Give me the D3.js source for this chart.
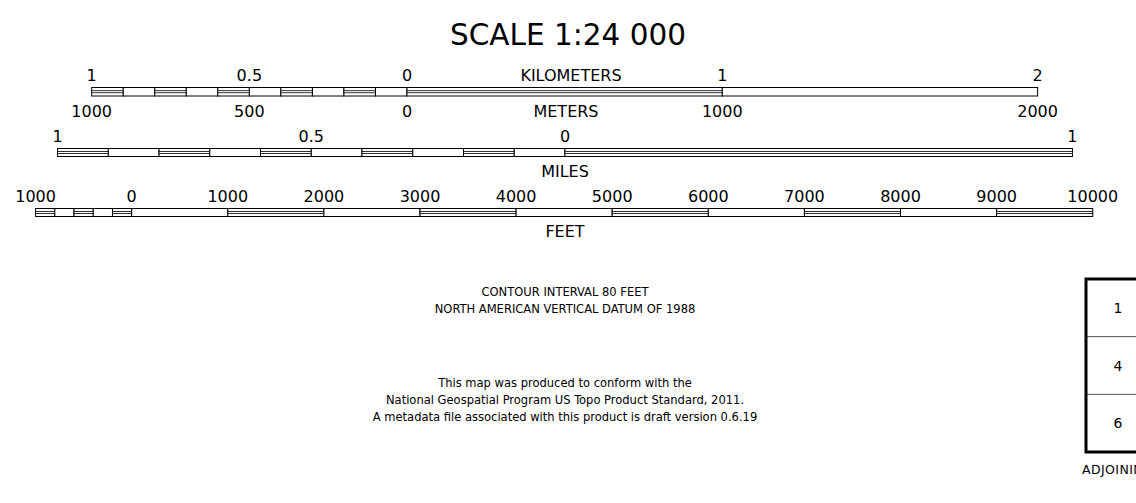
<!DOCTYPE html>
<html><head><meta charset="utf-8">
<script src="https://cdn.jsdelivr.net/npm/d3@7"></script>
<style>
html,body{margin:0;padding:0;background:#fff;}
svg{display:block;}
text{font-family:"DejaVu Sans",sans-serif;fill:#000;}
.notes text{font-family:"DejaVu Sans Condensed","DejaVu Sans",sans-serif;}
</style></head>
<body>
<svg id="chart" width="1136" height="503"></svg>
<script>
// ---- data ----
const title = "SCALE 1:24 000";
const kmTicks = [-1, -0.5, 0, 1, 2];
const kmLabels = ["1", "0.5", "0", "1", "2"];
const meterLabels = ["1000", "500", "0", "1000", "2000"];
const mileTicks = [-1, -0.5, 0, 1];
const mileLabels = ["1", "0.5", "0", "1"];
const feetTicks = [-1000, 0, 1000, 2000, 3000, 4000, 5000, 6000, 7000, 8000, 9000, 10000];
const feetLabels = ["1000", "0", "1000", "2000", "3000", "4000", "5000", "6000", "7000", "8000", "9000", "10000"];
// segments: [start, end, doubleLine]
const kmSegments = [
  [-1.0,-0.9,1],[-0.9,-0.8,0],[-0.8,-0.7,1],[-0.7,-0.6,0],[-0.6,-0.5,1],
  [-0.5,-0.4,0],[-0.4,-0.3,1],[-0.3,-0.2,0],[-0.2,-0.1,1],[-0.1,0,0],
  [0,1,1],[1,2,0]];
const mileSegments = [
  [-1.0,-0.9,1],[-0.9,-0.8,0],[-0.8,-0.7,1],[-0.7,-0.6,0],[-0.6,-0.5,1],
  [-0.5,-0.4,0],[-0.4,-0.3,1],[-0.3,-0.2,0],[-0.2,-0.1,1],[-0.1,0,0],
  [0,1,1]];
const feetSegments = [
  [-1000,-800,1],[-800,-600,0],[-600,-400,1],[-400,-200,0],[-200,0,1],
  [0,1000,0],[1000,2000,1],[2000,3000,0],[3000,4000,1],[4000,5000,0],
  [5000,6000,1],[6000,7000,0],[7000,8000,1],[8000,9000,0],[9000,10000,1]];
const unitNames = {km: "KILOMETERS", m: "METERS", mi: "MILES", ft: "FEET"};
const notes1 = ["CONTOUR INTERVAL 80 FEET", "NORTH AMERICAN VERTICAL DATUM OF 1988"];
const notes2 = ["This map was produced to conform with the",
  "National Geospatial Program US Topo Product Standard, 2011.",
  "A metadata file associated with this product is draft version 0.6.19"];
const adjoining = ["1", "4", "6"];
const adjoiningLabel = "ADJOINING 7.5' QUADRANGLES";

// ---- drawing ----
const svg = d3.select("#chart");
const pxPerKm = 315.3;
const km = d3.scaleLinear().domain([-1, 2]).range([407 - pxPerKm, 407 + 2 * pxPerKm]);
const mi = d3.scaleLinear().domain([-1, 1]).range([565 - 1.609344 * pxPerKm, 565 + 1.609344 * pxPerKm]);
const ft = d3.scaleLinear().domain([0, 10000]).range([131.7, 131.7 + 10 * 0.3048 * pxPerKm]);

svg.append("text").attr("x", 568).attr("y", 45).attr("text-anchor", "middle")
  .style("font-size", "29.5px").text(title);

function drawBar(scale, segs, y, h) {
  const g = svg.append("g");
  segs.forEach(s => {
    const x0 = scale(s[0]), x1 = scale(s[1]);
    g.append("rect").attr("x", x0).attr("y", y).attr("width", x1 - x0).attr("height", h)
      .attr("fill", "#fff").attr("stroke", "#000").attr("stroke-width", 1);
    if (s[2]) {
      g.append("rect").attr("x", x0).attr("y", y + h * 0.38).attr("width", x1 - x0).attr("height", h * 0.24)
        .attr("fill", "#fff").attr("stroke", "#000").attr("stroke-width", 0.8);
    }
  });
}
function drawLabels(scale, ticks, labels, y, size) {
  svg.append("g").selectAll("text").data(ticks).join("text")
    .attr("x", d => scale(d)).attr("y", y).attr("text-anchor", "middle")
    .style("font-size", size + "px").text((d, i) => labels[i]);
}

const ls = 16;
drawBar(km, kmSegments, 87.5, 8.5);
drawLabels(km, kmTicks, kmLabels, 81, ls);
drawLabels(km, kmTicks, meterLabels, 117, ls);
svg.append("text").attr("x", 571).attr("y", 81).attr("text-anchor", "middle").style("font-size", ls + "px").text(unitNames.km);
svg.append("text").attr("x", 566).attr("y", 117).attr("text-anchor", "middle").style("font-size", ls + "px").text(unitNames.m);

drawBar(mi, mileSegments, 148.5, 8);
drawLabels(mi, mileTicks, mileLabels, 142, ls);
svg.append("text").attr("x", 565).attr("y", 177).attr("text-anchor", "middle").style("font-size", ls + "px").text(unitNames.mi);

drawBar(ft, feetSegments, 208.5, 8);
drawLabels(ft, feetTicks, feetLabels, 202, ls);
svg.append("text").attr("x", 565).attr("y", 237).attr("text-anchor", "middle").style("font-size", ls + "px").text(unitNames.ft);

const notes = svg.append("g").attr("class", "notes");
notes.append("g").selectAll("text").data(notes1).join("text")
  .attr("x", 565).attr("y", (d, i) => 296 + i * 17).attr("text-anchor", "middle")
  .style("font-size", "12.8px").text(d => d);
notes.append("g").selectAll("text").data(notes2).join("text")
  .attr("x", 565).attr("y", (d, i) => 387 + i * 17).attr("text-anchor", "middle")
  .style("font-size", "12.8px").text(d => d);

// adjoining box
const bx = 1086, by = 279, bh = 173, bw = 80;
const rowY = d3.scaleBand().domain(adjoining).range([by, by + bh]);
const ag = svg.append("g");
rowY.domain().slice(1).forEach(d => {
  ag.append("line").attr("x1", bx).attr("x2", bx + bw).attr("y1", rowY(d)).attr("y2", rowY(d))
    .attr("stroke", "#555").attr("stroke-width", 1);
});
ag.append("rect").attr("x", bx).attr("y", by).attr("width", bw).attr("height", bh)
  .attr("fill", "none").attr("stroke", "#000").attr("stroke-width", 3);
ag.selectAll("text").data(adjoining).join("text")
  .attr("x", 1118).attr("y", d => rowY(d) + rowY.bandwidth() / 2 + 5).attr("text-anchor", "middle")
  .style("font-size", "14px").text(d => d);
svg.append("text").attr("x", 1082).attr("y", 474).style("font-size", "12.5px")
  .style("letter-spacing", "0.4px").text(adjoiningLabel);
</script>
</body></html>
